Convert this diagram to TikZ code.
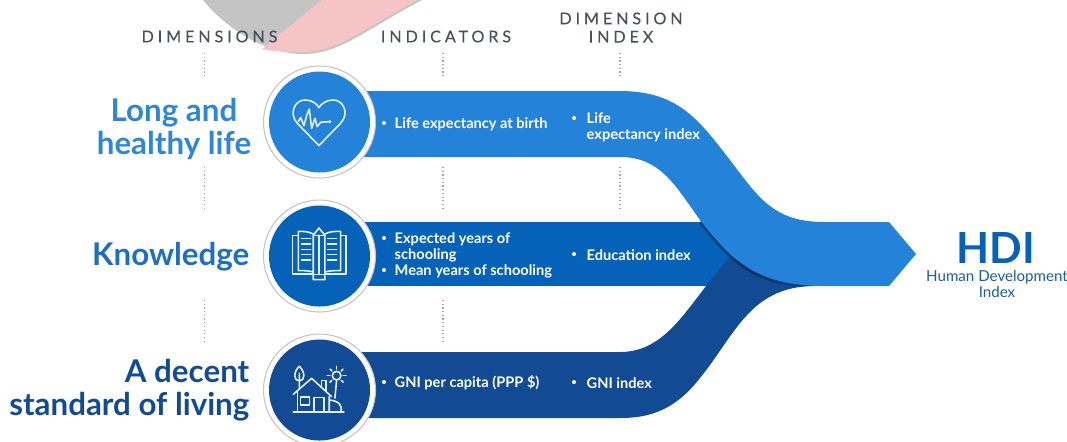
\documentclass[tikz,border=0pt]{standalone}
\usepackage{fontspec}
\usepackage{xcolor}
\setmainfont{Lato}
\definecolor{bandA}{RGB}{36, 131, 217}
\definecolor{bandB}{RGB}{5, 98, 184}
\definecolor{bandC}{RGB}{18, 75, 148}
\definecolor{headA}{RGB}{47, 134, 214}
\definecolor{headB}{RGB}{30, 111, 192}
\definecolor{capt}{RGB}{72, 80, 92}
\definecolor{rim}{RGB}{196, 196, 196}
\definecolor{blobgrey}{RGB}{196, 196, 196}
\definecolor{blobpink}{RGB}{246, 196, 196}
\tikzset{
    capt/.style={color=capt, font=\fontsize{4.6}{5.2}\selectfont\addfontfeatures{LetterSpace=24, FakeBold=0.25}, inner sep=0pt, align=center},
    head/.style={font=\fontsize{8.9}{9.4}\selectfont\bfseries, inner sep=0pt},
    bandtext/.style={color=white, font=\fontsize{4.15}{4.55}\selectfont\bfseries, inner sep=0pt, anchor=west, align=left},
    dotline/.style={color=gray!70, line width=0.35pt, dash pattern=on 0.35pt off 0.7pt},
    icon/.style={color=white!88!bandA, line width=0.45pt, line join=round, line cap=round},
}
\begin{document}
\begin{tikzpicture}[x=0.01cm, y=-0.01cm]
            \clip (0, 0) rectangle (1067, 441);
            % leftover shape at the top
            \fill[color=blobgrey] (203, 0) .. controls (222, 24) and (262, 54) .. (303, 54) .. controls (340, 54) and (365, 30) .. (422, 0) -- cycle;
            \fill[color=blobpink] (322, 0) -- (262, 49) .. controls (276, 52) and (290, 52) .. (303, 52) .. controls (338, 52) and (363, 29) .. (418, 0) -- cycle;
            % captions
            \node[capt](dim) at (209.5, 36.5) {DIMENSIONS};
            \node[capt](ind) at (446, 36.5) {INDICATORS};
            \node[capt](dimidx) at (621, 27.5) {DIMENSION\\INDEX};
            \draw[dotline] (204.5, 53) -- (204.5, 78);
            \draw[dotline] (204.5, 167) -- (204.5, 210);
            \draw[dotline] (204.5, 300) -- (204.5, 342);
            \draw[dotline] (443, 53) -- (443, 78);
            \draw[dotline] (443, 167) -- (443, 210);
            \draw[dotline] (443, 300) -- (443, 342);
            \draw[dotline] (620, 53) -- (620, 78);
            \draw[dotline] (620, 167) -- (620, 210);
            % bands
            \fill[color=bandB] (330, 222) rectangle (760, 286);
            \fill[color=bandC] (330, 352) -- (620, 352) .. controls (670, 352) and (690, 300) .. (730, 257) -- (760, 270) -- (815, 286) .. controls (750, 286) and (735, 335) .. (700, 378) .. controls (675, 410) and (650, 418) .. (620, 418) -- (330, 418) -- cycle;
            \fill[color=black, opacity=0.35] (815, 286) .. controls (755, 288) and (730, 262) .. (700, 224) -- (700, 220) .. controls (730, 258) and (755, 286) .. (815, 286) -- cycle;
            \fill[color=bandA] (330, 91) -- (620, 91) .. controls (680, 91) and (700, 122) .. (730, 160) .. controls (760, 200) and (775, 222) .. (825, 222) -- (889, 222) -- (916, 254) -- (889, 286) -- (825, 286) .. controls (755, 286) and (730, 258) .. (700, 220) .. controls (675, 185) and (660, 157) .. (620, 157) -- (330, 157) -- cycle;
            % circles
            \foreach \y/\c in {122/bandA, 256/bandB, 390/bandC} {
                \filldraw[draw=rim, fill=white, line width=0.3pt] (319.5, \y) circle (56);
                \fill[color=\c] (319.5, \y) circle (50.5);
            }
            % heart
            \begin{scope}[shift={(280, 85)}, x=0.00333cm, y=-0.00333cm]
                \draw[icon] (117, 182) -- (52, 115) .. controls (25, 85) and (45, 45) .. (75, 45) .. controls (95, 45) and (110, 55) .. (117, 68) .. controls (125, 55) and (140, 45) .. (160, 45) .. controls (190, 45) and (210, 85) .. (182, 115) -- cycle;
                \draw[icon] (55, 110) -- (62, 98) -- (72, 122) -- (80, 92) -- (88, 72) -- (95, 130) -- (105, 100) -- (112, 125) -- (122, 112) -- (150, 110);
                \fill[color=white!88!bandA] (150, 110) circle (5);
            \end{scope}
            % book with pencil
            \begin{scope}[shift={(280, 218)}, x=0.00333cm, y=-0.00333cm]
                \draw[icon] (55, 52) -- (38, 52) -- (38, 168) -- (100, 168);
                \draw[icon] (182, 52) -- (198, 52) -- (198, 168) -- (135, 168);
                \draw[icon] (100, 48) .. controls (85, 40) and (70, 40) .. (55, 40) -- (55, 158) .. controls (70, 158) and (85, 158) .. (100, 162);
                \draw[icon] (135, 48) .. controls (150, 40) and (165, 40) .. (182, 40) -- (182, 158) .. controls (165, 158) and (150, 158) .. (135, 162);
                \draw[icon] (100, 185) -- (100, 52) -- (117, 30) -- (135, 52) -- (135, 185) -- cycle;
                \draw[icon] (100, 52) -- (135, 52) (117, 52) -- (117, 170) (100, 170) -- (135, 170);
                \foreach \y in {62, 78, 95, 110, 127} {
                    \draw[icon] (65, \y) -- (92, \y);
                    \draw[icon] (143, \y) -- (170, \y);
                }
            \end{scope}
            % house with tree and lamp
            \begin{scope}[shift={(280, 355)}, x=0.00333cm, y=-0.00333cm]
                \draw[icon] (58, 34) .. controls (40, 50) and (40, 78) .. (58, 78) .. controls (76, 78) and (76, 50) .. (58, 34) -- cycle (58, 55) -- (58, 100);
                \draw[icon] (40, 118) -- (95, 70) -- (155, 125);
                \draw[icon] (52, 110) -- (52, 172) (40, 172) -- (192, 172);
                \draw[icon] (125, 95) -- (125, 76) -- (138, 76) -- (138, 108);
                \draw[icon] (62, 126) rectangle (88, 150);
                \draw[icon] (103, 172) -- (103, 128) -- (132, 128) -- (132, 172);
                \draw[icon] (148, 125) -- (148, 172) (148, 135) .. controls (175, 138) and (190, 150) .. (182, 172);
                \draw[icon] (170, 62) circle (13);
                \draw[icon] (170, 76) -- (165, 130);
                \foreach \a in {0, 45, 135, 180, 225, 270, 315} {
                    \draw[icon] (170, 62) ++(\a:20) -- ++(\a:8);
                }
            \end{scope}
            % headings
            \node[head, color=headA, align=center](long) at (174, 129) {Long and\\healthy life};
            \node[head, color=headB, anchor=east](know) at (250, 257) {Knowledge};
            \node[head, color=bandC, anchor=east, align=right](decent) at (250, 390) {A decent\\standard of living};
            % band texts
            \foreach \x/\y in {384/123, 574/118, 384/238, 384/270, 574/254, 384/382, 574/382} {
                \fill[color=white] (\x, \y) circle (2);
            }
            \node[bandtext](lifeexp) at (394, 124) {Life expectancy at birth};
            \node[bandtext](lifeidx) at (586, 127.5) {Life\\expectancy index};
            \node[bandtext](years) at (394, 255.5) {Expected years of\\schooling\\Mean years of schooling};
            \node[bandtext](eduidx) at (586, 255) {Education index};
            \node[bandtext](gni) at (394, 383) {GNI per capita (PPP \$)};
            \node[bandtext](gniidx) at (586, 383) {GNI index};
            % result
            \node[color=bandB, font=\fontsize{12.2}{13}\selectfont\bfseries, inner sep=0pt](hdi) at (996, 248) {HDI};
            \node[color=headB!85!black, font=\fontsize{4.3}{4.4}\selectfont, inner sep=0pt, align=center](hdiname) at (997, 284) {Human Development\\Index};
        \end{tikzpicture}
\end{document}
